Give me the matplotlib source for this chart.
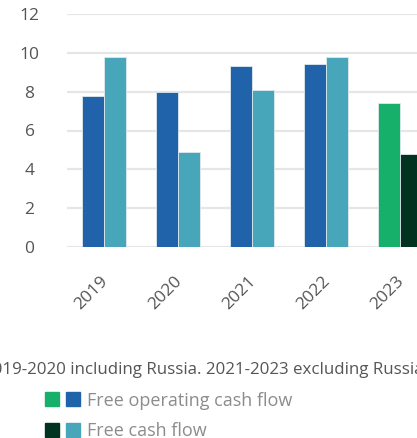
import matplotlib
matplotlib.use("Agg")
import matplotlib.pyplot as plt
from matplotlib.legend_handler import HandlerTuple
from matplotlib.patches import Patch
from matplotlib.transforms import ScaledTranslation
import numpy as np

years = ["2019", "2020", "2021", "2022", "2023"]
free_operating_cash_flow = [7.8, 8.0, 9.3, 9.4, 7.4]
free_cash_flow = [9.8, 4.9, 8.1, 9.8, 4.8]
y_ticks = [0, 2, 4, 6, 8, 10, 12]
footnote = "2019-2020 including Russia. 2021-2023 excluding Russia"
legend_labels = ["Free operating cash flow", "Free cash flow"]

# Earlier years in blues, latest year in greens
focf_colors = ["#2163aa"] * 4 + ["#17b06a"]
fcf_colors = ["#47a6ba"] * 4 + ["#023320"]

plt.rcParams["font.family"] = ["Open Sans", "DejaVu Sans"]
W, H, DPI = 417, 438, 100
fig = plt.figure(figsize=(W / DPI, H / DPI), dpi=DPI)

ax = fig.add_axes([67 / W, 1 - 247 / H, 1 - 67 / W, (247 - 14) / H])
x = np.arange(len(years))
bw = 0.297
ax.bar(x - bw / 2, free_operating_cash_flow, bw, color=focf_colors,
       edgecolor="#dfe9ee", linewidth=0.6, zorder=3)
ax.bar(x + bw / 2, free_cash_flow, bw, color=fcf_colors,
       edgecolor="#dfe9ee", linewidth=0.6, zorder=3)

ax.set_xlim(-0.5, 4.23)
ax.set_ylim(0, 12)
ax.set_yticks(y_ticks)
ax.yaxis.grid(True, color="#e6e6e6", linewidth=1.6, zorder=0)
ax.set_axisbelow(True)
for s in ax.spines.values():
    s.set_visible(False)
ax.tick_params(axis="y", length=0, pad=27, labelsize=12.5, labelcolor="#555555")
for lbl in ax.get_yticklabels():
    lbl.set_horizontalalignment("center")
ax.set_xticks(x)
ax.set_xticklabels(years, rotation=45, ha="right", va="top",
                   rotation_mode="anchor", fontsize=12.5, color="#555555")
ax.tick_params(axis="x", length=0, pad=19)
shift = ScaledTranslation(-4 / DPI, 0, fig.dpi_scale_trans)
for lbl in ax.get_xticklabels():
    lbl.set_transform(lbl.get_transform() + shift)

fig.text(0.487, 1 - 370 / H, footnote, ha="center", va="center",
         fontsize=12.2, color="#555555")

handles = [
    (Patch(color=focf_colors[-1]), Patch(color=focf_colors[0])),
    (Patch(color=fcf_colors[-1]), Patch(color=fcf_colors[0])),
]
fig.legend(handles, legend_labels, loc="upper left",
           bbox_to_anchor=(45 / W, 1 - 391.5 / H), frameon=False,
           fontsize=13, labelcolor="#8c8c8c", borderpad=0, borderaxespad=0,
           handlelength=1.95, handleheight=0.78, handletextpad=0.39,
           labelspacing=0.72,
           handler_map={tuple: HandlerTuple(ndivide=None, pad=0.39)})

fig.savefig("out.png", dpi=DPI)
